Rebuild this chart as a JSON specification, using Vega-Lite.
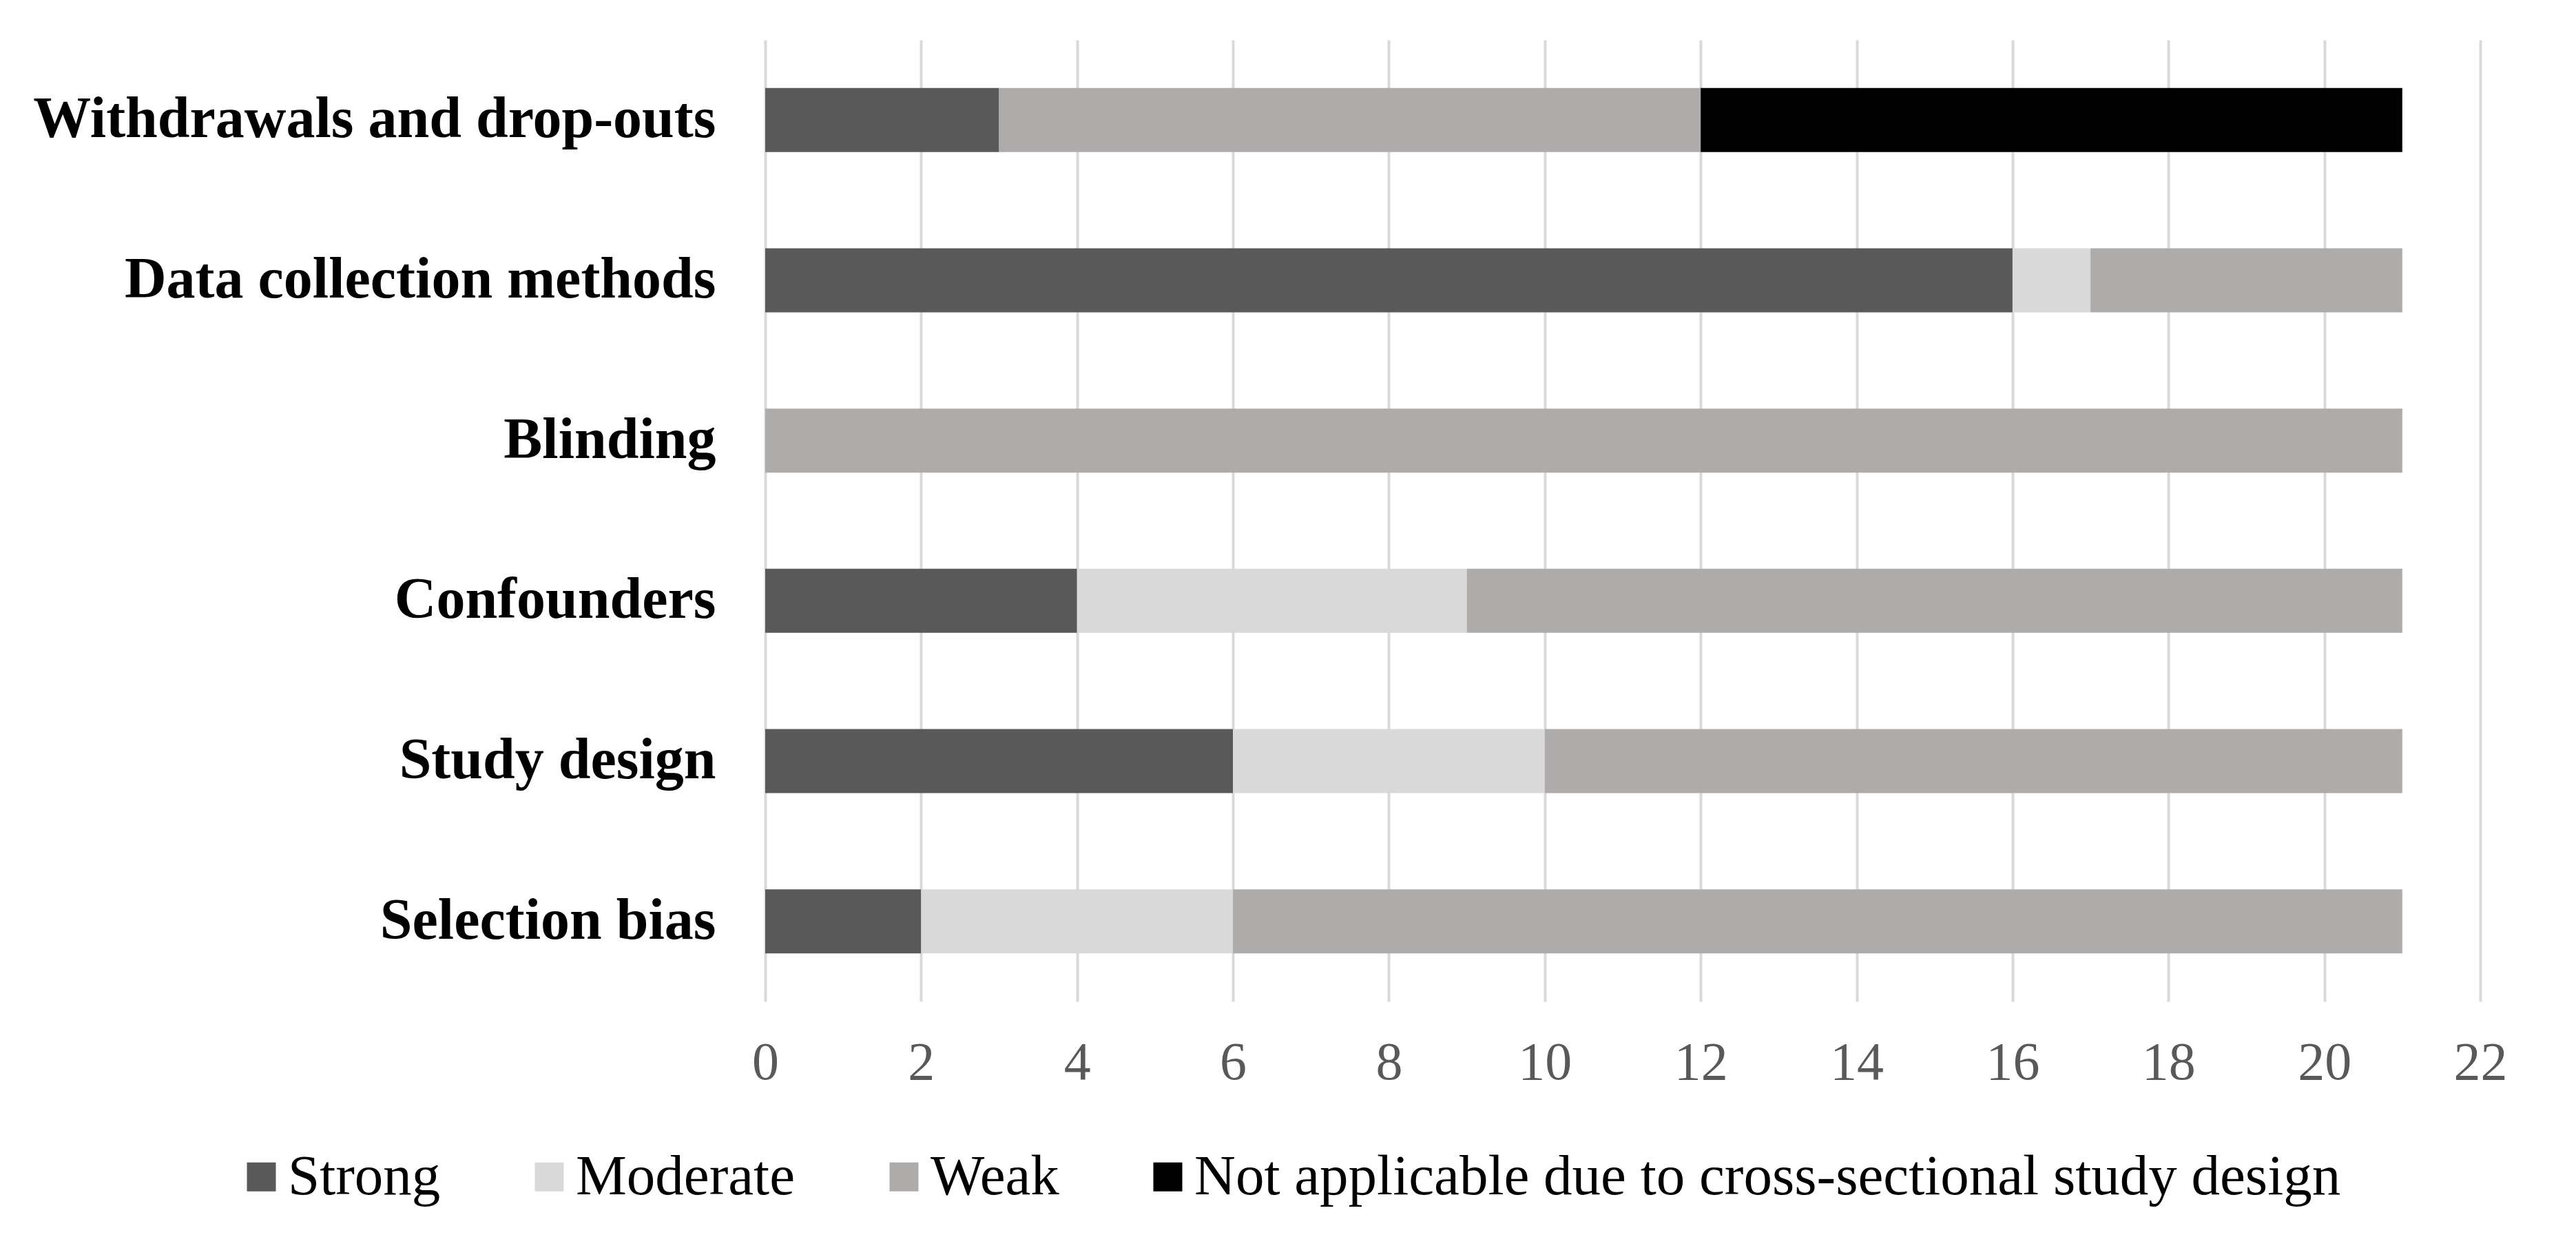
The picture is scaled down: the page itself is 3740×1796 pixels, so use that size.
{
  "$schema": "https://vega.github.io/schema/vega-lite/v6.json",
  "autosize": {"type": "none"},
  "width": 2490,
  "height": 1396,
  "padding": {"left": 1111, "top": 58, "right": 139, "bottom": 342},
  "background": "#ffffff",
  "data": {
    "values": [
      {"item": "Withdrawals and drop-outs", "rating": "Strong", "count": 3},
      {"item": "Withdrawals and drop-outs", "rating": "Weak", "count": 9},
      {"item": "Withdrawals and drop-outs", "rating": "Not applicable due to cross-sectional study design", "count": 9},
      {"item": "Data collection methods", "rating": "Strong", "count": 16},
      {"item": "Data collection methods", "rating": "Moderate", "count": 1},
      {"item": "Data collection methods", "rating": "Weak", "count": 4},
      {"item": "Blinding", "rating": "Weak", "count": 21},
      {"item": "Confounders", "rating": "Strong", "count": 4},
      {"item": "Confounders", "rating": "Moderate", "count": 5},
      {"item": "Confounders", "rating": "Weak", "count": 12},
      {"item": "Study design", "rating": "Strong", "count": 6},
      {"item": "Study design", "rating": "Moderate", "count": 4},
      {"item": "Study design", "rating": "Weak", "count": 11},
      {"item": "Selection bias", "rating": "Strong", "count": 2},
      {"item": "Selection bias", "rating": "Moderate", "count": 4},
      {"item": "Selection bias", "rating": "Weak", "count": 15}
    ]
  },
  "transform": [
    {"calculate": "indexof(['Strong','Moderate','Weak','Not applicable due to cross-sectional study design'], datum.rating)", "as": "rank"}
  ],
  "mark": {"type": "bar"},
  "encoding": {
    "y": {
      "field": "item",
      "type": "nominal",
      "sort": ["Withdrawals and drop-outs", "Data collection methods", "Blinding", "Confounders", "Study design", "Selection bias"],
      "scale": {"paddingInner": 0.6, "paddingOuter": 0.3},
      "axis": {
        "title": null,
        "domain": false,
        "ticks": false,
        "tickSize": 0,
        "grid": false,
        "labelFont": "Liberation Serif",
        "labelFontWeight": "bold",
        "labelFontSize": 84,
        "labelColor": "#000000",
        "labelPadding": 72,
        "labelLimit": 2000
      }
    },
    "x": {
      "field": "count",
      "type": "quantitative",
      "stack": "zero",
      "scale": {"domain": [0, 22], "nice": false},
      "axis": {
        "title": null,
        "values": [0, 2, 4, 6, 8, 10, 12, 14, 16, 18, 20, 22],
        "domain": false,
        "ticks": false,
        "tickSize": 0,
        "grid": true,
        "gridColor": "#d9d9d9",
        "gridWidth": 4,
        "labelFlush": false,
        "labelFont": "Liberation Serif",
        "labelFontSize": 78,
        "labelColor": "#595959",
        "labelPadding": 50
      }
    },
    "color": {
      "field": "rating",
      "type": "nominal",
      "scale": {
        "domain": ["Strong", "Moderate", "Weak", "Not applicable due to cross-sectional study design"],
        "range": ["#595959", "#d9d9d9", "#aeabab", "#000000"]
      },
      "legend": {
        "title": null,
        "orient": "none",
        "direction": "horizontal",
        "legendX": -773,
        "legendY": 1609,
        "symbolType": "square",
        "symbolSize": 1764,
        "symbolStrokeWidth": 0,
        "symbolOpacity": 1,
        "labelFont": "Liberation Serif",
        "labelFontSize": 83,
        "labelColor": "#000000",
        "labelOffset": -3,
        "labelLimit": 3000,
        "columnPadding": 116,
        "padding": 0
      }
    },
    "order": {"field": "rank", "type": "quantitative"}
  },
  "config": {
    "view": {"stroke": null}
  }
}
